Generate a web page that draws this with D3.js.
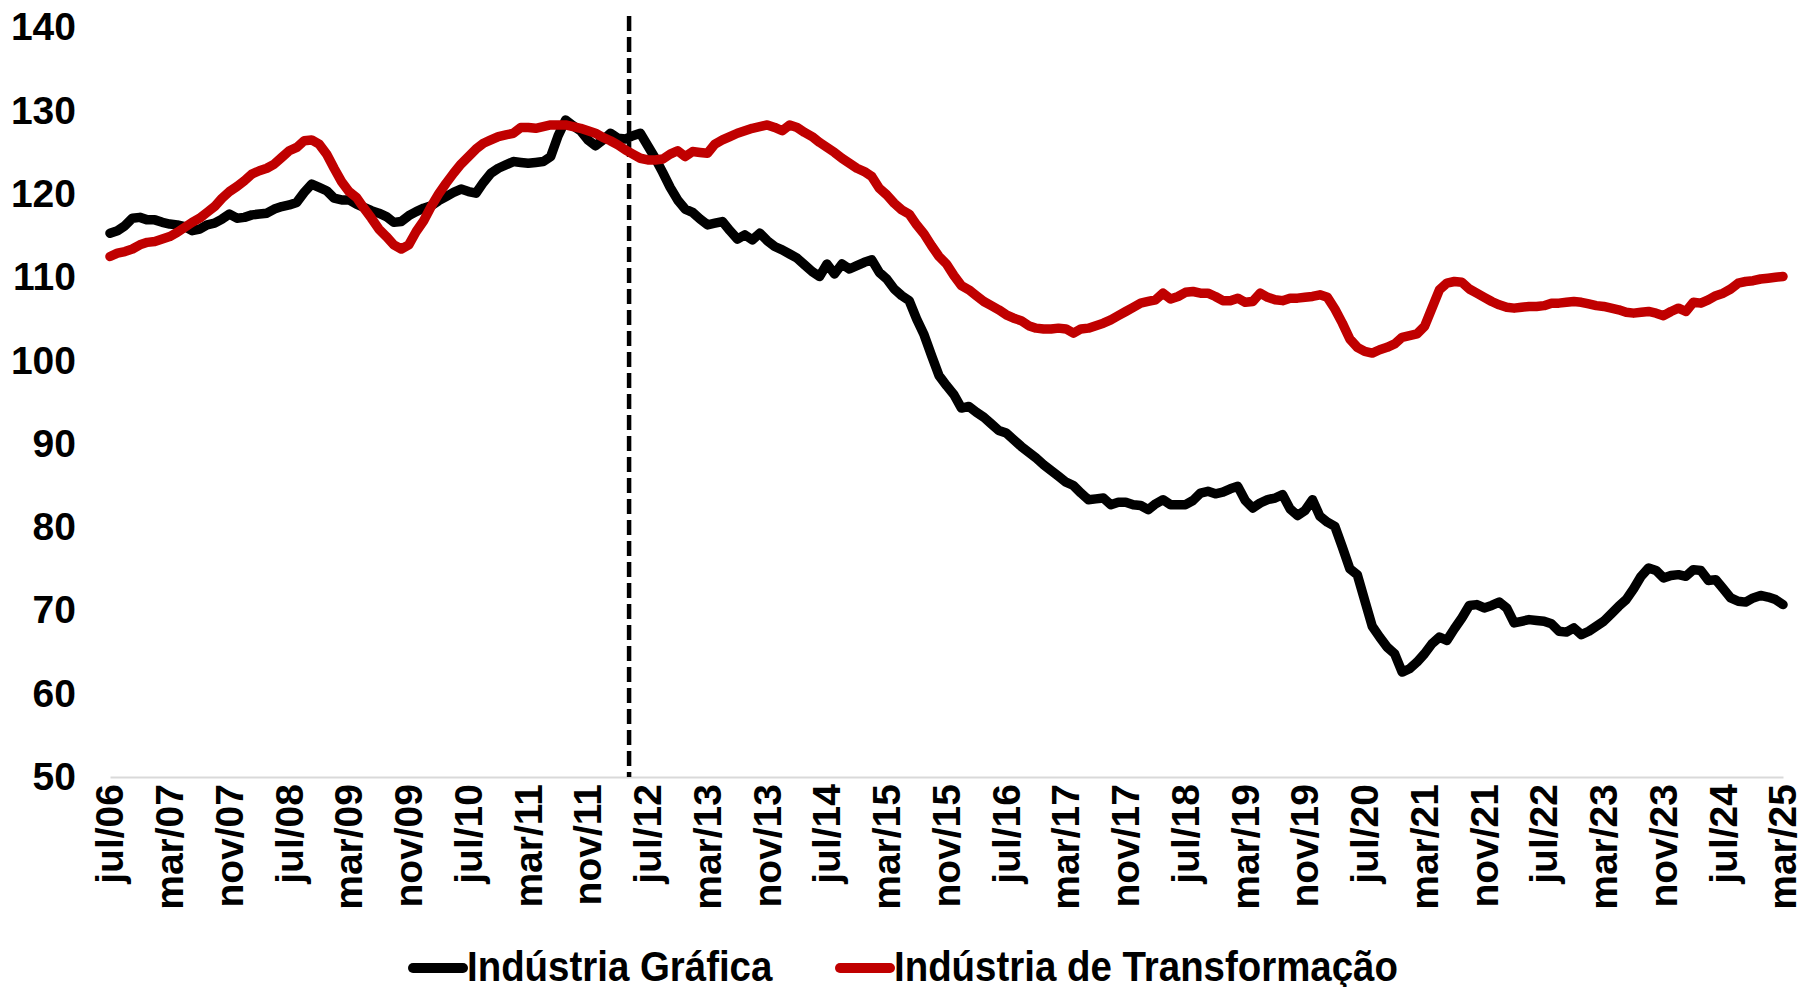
<!DOCTYPE html>
<html>
<head>
<meta charset="utf-8">
<script src="https://cdn.jsdelivr.net/npm/d3@7"></script>
<style>
    body { margin: 0; background: #fff; }
    #chart { width: 1800px; height: 987px; }
    .axis text { font-family: "Liberation Sans", Arial, sans-serif; font-weight: bold; font-size: 39px; fill: #000; }
    .legend text { font-family: "Liberation Sans", Arial, sans-serif; font-weight: bold; font-size: 42px; fill: #000; }
</style>
</head>
<body>
<div id="chart"></div>
<script>
// monthly series, jul/06 .. mar/25
const startYear = 2006, startMonth = 6;
const monthNames = ["jan","fev","mar","abr","mai","jun","jul","ago","set","out","nov","dez"];

const grafica = [
    115.3,115.6,116.2,117.1,117.2,116.9,116.9,116.6,116.4,116.3,116.1,115.6,
    115.8,116.3,116.5,117.0,117.6,117.1,117.2,117.5,117.6,117.7,118.2,118.5,
    118.7,119.0,120.2,121.2,120.8,120.4,119.5,119.3,119.3,118.8,118.4,118.0,
    117.7,117.3,116.6,116.7,117.4,117.9,118.3,118.6,119.2,119.7,120.2,120.6,
    120.3,120.1,121.4,122.5,123.1,123.5,123.9,123.8,123.7,123.8,123.9,124.5,
    127.0,128.9,128.2,127.6,126.5,125.8,126.5,127.3,126.7,126.6,127.0,127.3,
    125.8,124.3,122.6,120.8,119.3,118.2,117.8,117.0,116.3,116.5,116.7,115.6,
    114.6,115.1,114.5,115.3,114.4,113.7,113.3,112.8,112.3,111.5,110.7,110.1,
    111.6,110.4,111.6,111.0,111.4,111.8,112.1,110.6,109.8,108.6,107.8,107.2,
    105.0,103.1,100.6,98.2,97.0,95.9,94.3,94.5,93.8,93.2,92.4,91.6,
    91.3,90.5,89.7,89.0,88.3,87.5,86.8,86.1,85.4,85.0,84.1,83.3,
    83.4,83.5,82.7,83.0,83.0,82.7,82.6,82.1,82.8,83.3,82.7,82.7,
    82.7,83.2,84.1,84.3,84.0,84.2,84.6,84.9,83.2,82.3,82.9,83.3,
    83.5,83.9,82.2,81.4,82.0,83.3,81.3,80.6,80.1,77.6,75.0,74.3,
    71.2,68.1,66.8,65.6,64.8,62.6,63.0,63.8,64.8,66.0,66.8,66.4,
    67.8,69.1,70.6,70.7,70.3,70.6,71.0,70.3,68.5,68.7,68.9,68.8,
    68.7,68.4,67.5,67.4,67.9,67.1,67.5,68.1,68.7,69.6,70.5,71.3,
    72.6,74.1,75.1,74.8,73.9,74.2,74.3,74.1,74.9,74.8,73.6,73.7,
    72.6,71.5,71.1,71.0,71.5,71.8,71.6,71.3,70.7
];

const transformacao = [
    112.5,112.9,113.1,113.4,113.9,114.2,114.3,114.6,114.9,115.4,116.0,116.6,
    117.1,117.8,118.5,119.5,120.3,120.9,121.6,122.4,122.8,123.1,123.6,124.4,
    125.2,125.6,126.4,126.5,126.0,124.8,123.1,121.5,120.3,119.6,118.3,117.1,
    115.8,114.9,113.9,113.4,113.9,115.5,116.8,118.5,120.0,121.3,122.5,123.6,
    124.5,125.4,126.1,126.5,126.9,127.1,127.3,128.0,128.0,127.9,128.1,128.3,
    128.3,128.3,128.1,127.9,127.6,127.3,126.8,126.4,125.9,125.3,124.8,124.3,
    124.1,124.1,124.2,124.8,125.2,124.5,125.1,125.0,124.9,126.0,126.5,126.9,
    127.3,127.6,127.9,128.1,128.3,128.0,127.6,128.3,128.0,127.4,126.9,126.2,
    125.6,125.0,124.3,123.7,123.1,122.7,122.1,120.7,119.9,118.9,118.1,117.6,
    116.3,115.2,113.8,112.5,111.6,110.2,109.0,108.5,107.8,107.1,106.6,106.1,
    105.5,105.1,104.8,104.2,103.9,103.8,103.8,103.9,103.8,103.3,103.8,103.9,
    104.2,104.5,104.9,105.4,105.9,106.4,106.9,107.1,107.3,108.1,107.4,107.7,
    108.2,108.3,108.1,108.1,107.7,107.2,107.2,107.5,107.0,107.1,108.1,107.6,
    107.3,107.2,107.5,107.5,107.6,107.7,107.9,107.6,106.2,104.5,102.6,101.6,
    101.1,100.9,101.3,101.6,102.0,102.8,103.0,103.2,104.1,106.3,108.5,109.3,
    109.5,109.4,108.6,108.1,107.6,107.1,106.7,106.4,106.3,106.4,106.5,106.5,
    106.6,106.9,106.9,107.0,107.1,107.0,106.8,106.6,106.5,106.3,106.1,105.8,
    105.7,105.8,105.9,105.7,105.4,105.9,106.3,105.9,107.0,106.9,107.3,107.8,
    108.1,108.6,109.3,109.5,109.6,109.8,109.9,110.0,110.1
];

const yTicks = [50, 60, 70, 80, 90, 100, 110, 120, 130, 140];
const tickStep = 8;          // one label every 8 months
const breakAfter = "abr/12"; // dashed line between abr/12 and mai/12

const seriesNames = ["Indústria Gráfica", "Indústria de Transformação"];
const seriesColors = ["#000000", "#c00000"];

const months = d3.range(grafica.length).map(function(i) {
    const d = new Date(startYear, startMonth + i, 1);
    return monthNames[d.getMonth()] + "/" + String(d.getFullYear()).slice(2);
});

const width = 1800;
const height = 987;
const margin = {top: 27.5, left: 110, right: 17, bottom: 210};

const svg = d3.select("#chart")
    .append("svg")
    .attr("width", width)
    .attr("height", height);

const xScale = d3.scaleLinear()
    .domain([0, months.length - 1])
    .range([margin.left, width - margin.right]);

const yScale = d3.scaleLinear()
    .domain([50, 140])
    .range([height - margin.bottom, margin.top]);

// y axis, labels only
const yAxis = svg.append("g")
    .attr("class", "axis")
    .attr("transform", `translate(${margin.left},0)`)
    .call(d3.axisLeft(yScale).tickValues(yTicks).tickSize(0).tickPadding(34));
yAxis.select(".domain").remove();

// x axis
const xAxis = svg.append("g")
    .attr("class", "axis")
    .attr("transform", `translate(0,${height - margin.bottom})`)
    .call(d3.axisBottom(xScale)
        .tickValues(d3.range(0, months.length, tickStep))
        .tickFormat(function(i) { return months[i]; })
        .tickSize(0)
        .tickSizeOuter(0));
xAxis.select(".domain").attr("stroke", "#d9d9d9").attr("stroke-width", 2);
xAxis.selectAll("text")
    .attr("transform", "rotate(-90)")
    .attr("x", -7)
    .attr("y", 0)
    .attr("dy", "0.33em")
    .style("text-anchor", "end");

// dashed marker
const bi = months.indexOf(breakAfter) + 0.5;
svg.append("line")
    .attr("x1", xScale(bi)).attr("x2", xScale(bi))
    .attr("y1", 16).attr("y2", yScale(50))
    .attr("stroke", "#000")
    .attr("stroke-width", 4.5)
    .attr("stroke-dasharray", "15,6");

// lines
const line = d3.line()
    .x(function(d, i) { return xScale(i); })
    .y(function(d) { return yScale(d); });

[grafica, transformacao].forEach(function(s, k) {
    svg.append("path")
        .datum(s)
        .attr("fill", "none")
        .attr("stroke", seriesColors[k])
        .attr("stroke-width", 9.5)
        .attr("stroke-linejoin", "round")
        .attr("stroke-linecap", "round")
        .attr("d", line);
});

// legend (narrow bold text)
const legendX = [413, 840];
const legend = svg.append("g").attr("class", "legend");
seriesNames.forEach(function(name, k) {
    legend.append("line")
        .attr("x1", legendX[k]).attr("x2", legendX[k] + 50)
        .attr("y1", 968).attr("y2", 968)
        .attr("stroke", seriesColors[k])
        .attr("stroke-width", 10)
        .attr("stroke-linecap", "round");
    legend.append("text")
        .attr("transform", `translate(${legendX[k] + 54},981) scale(0.915,1)`)
        .text(name);
});
</script>
</body>
</html>
